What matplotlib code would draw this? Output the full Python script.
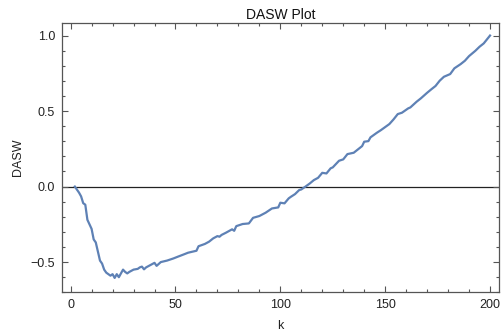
import matplotlib
matplotlib.use("Agg")
import matplotlib.pyplot as plt
from matplotlib.ticker import MultipleLocator, FuncFormatter

plt.rcParams['font.family'] = ['Liberation Sans', 'DejaVu Sans']

# DASW as a function of k
k = [2, 3, 4, 5, 6, 7, 8, 9, 10, 11, 12, 13, 14, 15, 16, 17, 18, 19, 20, 21,
     22, 23, 24, 25, 26, 27, 28, 30, 32, 33, 34, 35, 36, 38, 40, 41, 43, 46, 49,
     51, 54, 56, 60, 61, 64, 66, 68, 70, 71, 72, 74, 77, 78, 79, 82, 85, 87, 90,
     93, 96, 99, 100, 102, 104, 105, 107, 109, 110, 112, 114, 116, 118, 120, 122,
     124, 125, 128, 130, 132, 135, 137, 139, 140, 142, 143, 146, 148, 152, 154,
     156, 158, 161, 162, 165, 167, 170, 172, 174, 176, 178, 181, 183, 186, 188,
     190, 193, 195, 197, 200]
dasw = [0.0, -0.02, -0.04, -0.065, -0.11, -0.12, -0.22, -0.25, -0.28, -0.35,
        -0.37, -0.43, -0.49, -0.51, -0.55, -0.57, -0.58, -0.59, -0.58, -0.605,
        -0.58, -0.60, -0.575, -0.55, -0.565, -0.575, -0.565, -0.55, -0.545,
        -0.535, -0.53, -0.548, -0.535, -0.52, -0.505, -0.525, -0.50, -0.49,
        -0.476, -0.465, -0.449, -0.438, -0.425, -0.395, -0.38, -0.365, -0.343,
        -0.328, -0.332, -0.32, -0.306, -0.283, -0.293, -0.262, -0.248, -0.244,
        -0.207, -0.195, -0.173, -0.145, -0.138, -0.107, -0.111, -0.078, -0.068,
        -0.05, -0.023, -0.019, 0.0, 0.02, 0.043, 0.058, 0.091, 0.087, 0.121,
        0.127, 0.171, 0.18, 0.215, 0.224, 0.246, 0.268, 0.297, 0.301, 0.326,
        0.356, 0.374, 0.414, 0.445, 0.48, 0.489, 0.518, 0.524, 0.562, 0.584,
        0.621, 0.644, 0.666, 0.701, 0.727, 0.745, 0.783, 0.811, 0.833, 0.864,
        0.899, 0.926, 0.948, 1.0]

title = "DASW Plot"
xlabel = "k"
ylabel = "DASW"

fig = plt.figure(figsize=(5.01, 3.35), dpi=100)
ax = fig.add_axes([0.1238, 0.1275, 0.8723, 0.8047])

frame = "#555555"
ax.axhline(0, color="#222222", lw=0.9, zorder=1)
ax.plot(k, dasw, color="#5E81B5", lw=1.6, zorder=2)

ax.set_xlim(-4.1, 204.3)
ax.set_ylim(-0.70, 1.085)

ax.xaxis.set_major_locator(MultipleLocator(50))
ax.xaxis.set_minor_locator(MultipleLocator(10))
ax.yaxis.set_major_locator(MultipleLocator(0.5))
ax.yaxis.set_minor_locator(MultipleLocator(0.1))
ax.yaxis.set_major_formatter(FuncFormatter(lambda v, p: f"{v:.1f}".replace("-", "\u2212")))

ax.tick_params(which="both", direction="in", top=True, right=True,
               color=frame, width=0.8, labelsize=9, labelcolor="#222222")
ax.tick_params(which="major", length=4.5, pad=5)
ax.tick_params(which="minor", length=2.5)
for s in ax.spines.values():
    s.set_color(frame)
    s.set_linewidth(0.9)

ax.set_title(title, fontsize=10, color="#111111", pad=3)
ax.set_xlabel(xlabel, fontsize=9, color="#222222", labelpad=6)
ax.set_ylabel(ylabel, fontsize=9, color="#222222", labelpad=5)

fig.savefig("out.png", dpi=100)
